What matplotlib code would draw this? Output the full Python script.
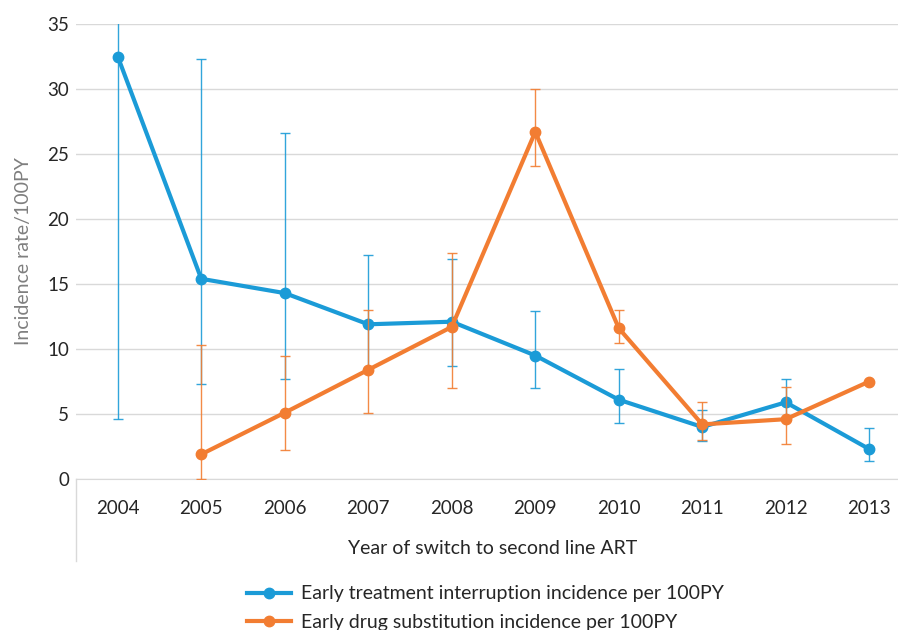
import matplotlib as mpl
mpl.use('Agg')

import numpy as np
import matplotlib.pyplot as plt
from matplotlib.lines import Line2D

plt.rcParams['font.family'] = ['Lato', 'DejaVu Sans']

years = ['2004', '2005', '2006', '2007', '2008', '2009', '2010', '2011', '2012', '2013']

# early treatment interruption (blue)
ti_rate = [32.5, 15.4, 14.3, 11.9, 12.1, 9.5, 6.1, 4.0, 5.9, 2.3]
ti_upper = [38.0, 32.3, 26.6, 17.2, 16.9, 12.9, 8.5, 5.3, 7.7, 3.9]
ti_lower = [4.6, 7.3, 7.7, 8.4, 8.7, 7.0, 4.3, 2.9, 4.6, 1.4]

# early drug substitution (orange), none in 2004
ds_rate = [np.nan, 1.9, 5.1, 8.4, 11.7, 26.7, 11.6, 4.2, 4.6, 7.5]
ds_upper = [np.nan, 10.3, 9.5, 13.0, 17.4, 30.0, 13.0, 5.9, 7.1, np.nan]
ds_lower = [np.nan, 0.0, 2.2, 5.1, 7.0, 24.1, 10.5, 3.0, 2.7, np.nan]

blue = '#1B9BD7'
orange = '#F27D32'

fig = plt.figure(figsize=(8.98, 6.3), dpi=100)
ax = fig.add_axes([76 / 898, 151 / 630, 835 / 898, 455 / 630])

x = np.arange(len(years))

def draw_series(rate, lo, hi, color, z):
    rate = np.array(rate, dtype=float)
    yerr = np.vstack([rate - np.array(lo, dtype=float), np.array(hi, dtype=float) - rate])
    ok = ~np.isnan(yerr[0])
    ax.errorbar(x[ok], rate[ok], yerr=yerr[:, ok], fmt='none', ecolor=color,
                elinewidth=1.0, capsize=3.5, capthick=1.0, alpha=0.9, zorder=z)
    ax.plot(x, rate, color=color, lw=3.0, marker='o', ms=7.5, zorder=z + 1,
            solid_capstyle='round')

draw_series(ti_rate, ti_lower, ti_upper, blue, 3)
draw_series(ds_rate, ds_lower, ds_upper, orange, 5)

ax.set_xlim(-0.5, len(years) - 0.5)
ax.set_ylim(0, 35)
ax.set_yticks(range(0, 36, 5))
ax.set_xticks(x)
ax.set_xticklabels(years)
ax.grid(axis='y', color='#D9D9D9', lw=1.0)
ax.set_axisbelow(True)
for s in ['top', 'right', 'left']:
    ax.spines[s].set_visible(False)
ax.spines['bottom'].set_color('#D9D9D9')
ax.tick_params(length=0, labelsize=13.5, colors='#262626')
ax.tick_params(axis='x', pad=15)
ax.tick_params(axis='y', pad=5)

ax.set_ylabel('Incidence rate/100PY', color='#7F7F7F', fontsize=14, labelpad=11)
fig.text(493 / 898, 1 - 548 / 630, 'Year of switch to second line ART',
         ha='center', va='center', fontsize=14, color='#262626')

# category axis boundary line below the axis
fig.add_artist(Line2D([76 / 898, 76 / 898], [1 - 479 / 630, 1 - 561 / 630],
                      color='#D9D9D9', lw=1.0, transform=fig.transFigure))

handles = [Line2D([], [], color=blue, lw=3.0, marker='o', ms=7.5),
           Line2D([], [], color=orange, lw=3.0, marker='o', ms=7.5)]
labels = ['Early treatment interruption incidence per 100PY',
          'Early drug substitution incidence per 100PY']
fig.legend(handles, labels, loc='upper left', bbox_to_anchor=(229 / 898, 1 - 568 / 630),
           frameon=False, fontsize=14, handlelength=2.3, labelspacing=0.6,
           handletextpad=0.5, labelcolor='#262626')

fig.savefig('out.png', dpi=100)
